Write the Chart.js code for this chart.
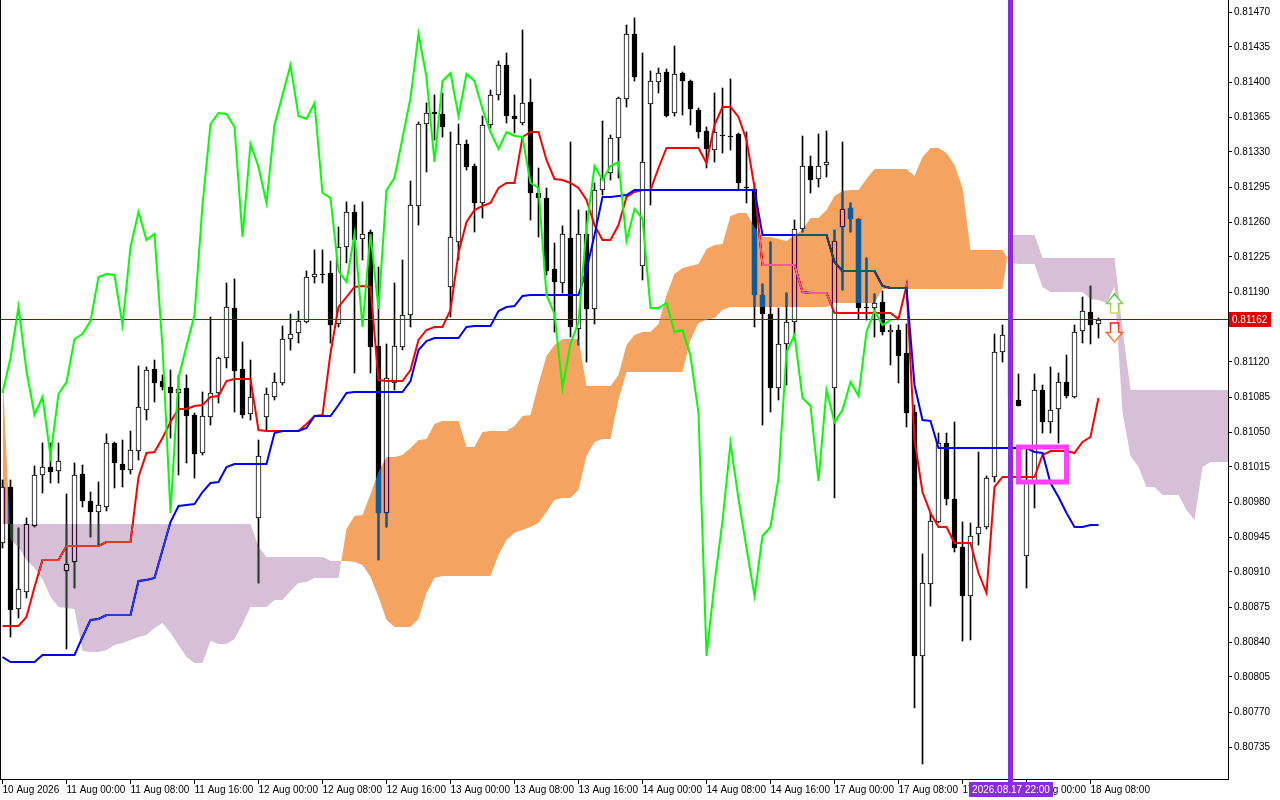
<!DOCTYPE html>
<html>
<head>
<meta charset="utf-8">
<script src="https://cdn.jsdelivr.net/npm/chart.js@4.4.1/dist/chart.umd.min.js"></script>
<style>
  html, body { margin: 0; padding: 0; background: #fff; overflow: hidden; }
  canvas { display: block; }
</style>
</head>
<body>
<canvas id="myChart" width="1280" height="800"></canvas>
<script>
// hourly bars, first bar = 10 Aug 16:00, one axis label every 8 bars
const tickLabels = ['10 Aug 2026', '11 Aug 00:00', '11 Aug 08:00', '11 Aug 16:00', '12 Aug 00:00', '12 Aug 08:00',
  '12 Aug 16:00', '13 Aug 00:00', '13 Aug 08:00', '13 Aug 16:00', '14 Aug 00:00', '14 Aug 08:00', '14 Aug 16:00',
  '17 Aug 00:00', '17 Aug 08:00', '17 Aug 16:00', '18 Aug 00:00', '18 Aug 08:00'];

const yTicks = [0.80735, 0.80770, 0.80805, 0.80840, 0.80875, 0.80910, 0.80945, 0.80980, 0.81015, 0.81050,
  0.81085, 0.81120, 0.81190, 0.81225, 0.81260, 0.81295, 0.81330, 0.81365, 0.81400, 0.81435, 0.81470];

const opens = [
  0.80939, 0.80995, 0.80873, 0.80890, 0.80956, 0.81007, 0.81015, 0.81011, 0.80911, 0.80920,
  0.81008, 0.80981, 0.80970, 0.80975, 0.81039, 0.81018, 0.81012, 0.81031, 0.81072, 0.81113,
  0.81101, 0.81095, 0.81089, 0.81094, 0.81067, 0.81029, 0.81065, 0.81089, 0.81124, 0.81174,
  0.81113, 0.81068, 0.80964, 0.81065, 0.81085, 0.81099, 0.81143, 0.81149, 0.81160, 0.81205,
  0.81208, 0.81209, 0.81158, 0.81235, 0.81270, 0.81243, 0.81250, 0.81136, 0.80969, 0.81099,
  0.81135, 0.81167, 0.81276, 0.81358, 0.81370, 0.81368, 0.81195, 0.81240, 0.81338, 0.81316,
  0.81279, 0.81357, 0.81387, 0.81417, 0.81366, 0.81359, 0.81380, 0.81289, 0.81284, 0.81213,
  0.81199, 0.81244, 0.81153, 0.81248, 0.81173, 0.81292, 0.81309, 0.81344, 0.81383, 0.81448,
  0.81216, 0.81378, 0.81400, 0.81410, 0.81369, 0.81409, 0.81401, 0.81372, 0.81351, 0.81332,
  0.81347, 0.81346, 0.81348, 0.81295, 0.81293, 0.81187, 0.81168, 0.81094, 0.81138, 0.81160,
  0.81253, 0.81316, 0.81303, 0.81317, 0.81094, 0.81255, 0.81274, 0.81263, 0.81175, 0.81174,
  0.81180, 0.81150, 0.81152, 0.81129, 0.81070, 0.80826, 0.80898, 0.80960, 0.81039, 0.80983,
  0.80935, 0.80886, 0.80948, 0.80955, 0.81005, 0.81130, 0.81144, 0.81082, 0.80926, 0.81001,
  0.81092, 0.81060, 0.81073, 0.81100, 0.81085, 0.81151, 0.81170, 0.81158];

const highs = [
  0.81002, 0.81002, 0.80954, 0.80964, 0.81016, 0.81039, 0.81039, 0.81039, 0.80988, 0.81019,
  0.81017, 0.80990, 0.81000, 0.81048, 0.81040, 0.81042, 0.81051, 0.81116, 0.81115, 0.81122,
  0.81107, 0.81112, 0.81107, 0.81107, 0.81069, 0.81090, 0.81165, 0.81125, 0.81199, 0.81203,
  0.81140, 0.81122, 0.81042, 0.81094, 0.81109, 0.81156, 0.81168, 0.81171, 0.81211, 0.81232,
  0.81232, 0.81221, 0.81255, 0.81280, 0.81277, 0.81280, 0.81252, 0.81215, 0.81138, 0.81199,
  0.81222, 0.81301, 0.81360, 0.81379, 0.81387, 0.81389, 0.81350, 0.81358, 0.81342, 0.81318,
  0.81366, 0.81392, 0.81421, 0.81429, 0.81387, 0.81452, 0.81403, 0.81314, 0.81294, 0.81239,
  0.81256, 0.81340, 0.81272, 0.81271, 0.81299, 0.81361, 0.81347, 0.81385, 0.81457, 0.81464,
  0.81429, 0.81411, 0.81414, 0.81413, 0.81436, 0.81410, 0.81402, 0.81374, 0.81355, 0.81389,
  0.81394, 0.81403, 0.81349, 0.81350, 0.81299, 0.81198, 0.81240, 0.81174, 0.81189, 0.81262,
  0.81346, 0.81326, 0.81348, 0.81351, 0.81252, 0.81340, 0.81279, 0.81263, 0.81224, 0.81188,
  0.81191, 0.81157, 0.81157, 0.81158, 0.81077, 0.80928, 0.80969, 0.81049, 0.81049, 0.81060,
  0.80960, 0.80959, 0.81030, 0.81006, 0.81148, 0.81157, 0.81162, 0.81108, 0.81035, 0.81108,
  0.81097, 0.81115, 0.81109, 0.81127, 0.81157, 0.81185, 0.81196, 0.81164];

const lows = [
  0.80934, 0.80845, 0.80864, 0.80884, 0.80955, 0.80989, 0.80999, 0.80999, 0.80833, 0.80894,
  0.80975, 0.80945, 0.80937, 0.80971, 0.80994, 0.80995, 0.81008, 0.81022, 0.81062, 0.81080,
  0.81092, 0.81044, 0.81007, 0.81019, 0.81004, 0.81027, 0.81057, 0.81079, 0.81114, 0.81070,
  0.81064, 0.81062, 0.80899, 0.81052, 0.81082, 0.81097, 0.81132, 0.81139, 0.81159, 0.81199,
  0.81199, 0.81139, 0.81155, 0.81219, 0.81109, 0.81222, 0.81109, 0.80922, 0.80955, 0.81092,
  0.81132, 0.81155, 0.81257, 0.81310, 0.81342, 0.81345, 0.81165, 0.81222, 0.81312, 0.81250,
  0.81264, 0.81354, 0.81382, 0.81359, 0.81349, 0.81357, 0.81262, 0.81245, 0.81207, 0.81150,
  0.81189, 0.81145, 0.81137, 0.81120, 0.81158, 0.81287, 0.81302, 0.81304, 0.81375, 0.81401,
  0.81202, 0.81277, 0.81389, 0.81365, 0.81366, 0.81367, 0.81357, 0.81344, 0.81314, 0.81320,
  0.81329, 0.81332, 0.81292, 0.81279, 0.81155, 0.81057, 0.81070, 0.81082, 0.81097, 0.81147,
  0.81250, 0.81289, 0.81295, 0.81305, 0.80984, 0.81192, 0.81250, 0.81163, 0.81162, 0.81145,
  0.81147, 0.81117, 0.81099, 0.81055, 0.80774, 0.80718, 0.80876, 0.80959, 0.80977, 0.80930,
  0.80841, 0.80842, 0.80937, 0.80953, 0.81000, 0.81120, 0.81062, 0.81076, 0.80894, 0.80974,
  0.81049, 0.81049, 0.81039, 0.81084, 0.81084, 0.81139, 0.81138, 0.81144];

const closes = [
  0.80995, 0.80872, 0.80893, 0.80958, 0.81007, 0.81015, 0.81010, 0.81021, 0.80918, 0.81007,
  0.80981, 0.80970, 0.80977, 0.81039, 0.81019, 0.81012, 0.81032, 0.81075, 0.81112, 0.81099,
  0.81095, 0.81089, 0.81093, 0.81066, 0.81028, 0.81066, 0.81089, 0.81124, 0.81175, 0.81111,
  0.81067, 0.81085, 0.81026, 0.81088, 0.81100, 0.81143, 0.81148, 0.81161, 0.81205, 0.81208,
  0.81207, 0.81157, 0.81235, 0.81270, 0.81242, 0.81248, 0.81135, 0.80969, 0.81104, 0.81136,
  0.81167, 0.81277, 0.81358, 0.81369, 0.81368, 0.81355, 0.81245, 0.81338, 0.81315, 0.81279,
  0.81357, 0.81387, 0.81417, 0.81366, 0.81363, 0.81379, 0.81289, 0.81284, 0.81211, 0.81200,
  0.81248, 0.81155, 0.81248, 0.81173, 0.81292, 0.81304, 0.81344, 0.81384, 0.81448, 0.81405,
  0.81320, 0.81401, 0.81409, 0.81366, 0.81408, 0.81401, 0.81373, 0.81350, 0.81333, 0.81350,
  0.81346, 0.81345, 0.81299, 0.81294, 0.81187, 0.81168, 0.81094, 0.81138, 0.81160, 0.81253,
  0.81316, 0.81302, 0.81316, 0.81320, 0.81241, 0.81273, 0.81263, 0.81174, 0.81174, 0.81179,
  0.81150, 0.81152, 0.81126, 0.81069, 0.80826, 0.80899, 0.80961, 0.81039, 0.80983, 0.80934,
  0.80886, 0.80946, 0.80955, 0.81004, 0.81130, 0.81147, 0.81084, 0.81076, 0.81001, 0.81092,
  0.81060, 0.81072, 0.81100, 0.81086, 0.81150, 0.81171, 0.81157, 0.81162];

// Ichimoku 9/26/52
const tenkan = [
  0.80856, 0.80856, 0.80856, 0.80865, 0.80895, 0.80922, 0.80922, 0.80922, 0.80936, 0.80936,
  0.80936, 0.80936, 0.80936, 0.80940, 0.80940, 0.80940, 0.80940, 0.81005, 0.81029, 0.81030,
  0.81044, 0.81060, 0.81073, 0.81073, 0.81076, 0.81077, 0.81085, 0.81086, 0.81101, 0.81103,
  0.81103, 0.81103, 0.81052, 0.81051, 0.81051, 0.81051, 0.81051, 0.81051, 0.81058, 0.81066,
  0.81067, 0.81129, 0.81175, 0.81185, 0.81195, 0.81196, 0.81195, 0.81102, 0.81101, 0.81101,
  0.81101, 0.81112, 0.81142, 0.81152, 0.81155, 0.81155, 0.81172, 0.81229, 0.81260, 0.81272,
  0.81276, 0.81279, 0.81294, 0.81299, 0.81299, 0.81345, 0.81350, 0.81350, 0.81322, 0.81303,
  0.81302, 0.81299, 0.81294, 0.81282, 0.81257, 0.81242, 0.81242, 0.81257, 0.81285, 0.81290,
  0.81292, 0.81292, 0.81314, 0.81334, 0.81334, 0.81334, 0.81334, 0.81334, 0.81319, 0.81357,
  0.81375, 0.81375, 0.81365, 0.81342, 0.81295, 0.81217, 0.81217, 0.81217, 0.81217, 0.81217,
  0.81190, 0.81189, 0.81189, 0.81189, 0.81169, 0.81169, 0.81169, 0.81169, 0.81169, 0.81169,
  0.81169, 0.81169, 0.81163, 0.81196, 0.81042, 0.80990, 0.80969, 0.80955, 0.80955, 0.80939,
  0.80939, 0.80939, 0.80909, 0.80889, 0.80995, 0.81005, 0.81005, 0.81005, 0.81005, 0.81005,
  0.81027, 0.81031, 0.81031, 0.81031, 0.81029, 0.81040, 0.81045, 0.81084];

const kijun = [
  0.80825, 0.80820, 0.80820, 0.80820, 0.80820, 0.80827, 0.80827, 0.80827, 0.80827, 0.80827,
  0.80845, 0.80862, 0.80863, 0.80867, 0.80867, 0.80867, 0.80867, 0.80901, 0.80902, 0.80904,
  0.80932, 0.80960, 0.80976, 0.80977, 0.80978, 0.80990, 0.80999, 0.81000, 0.81015, 0.81018,
  0.81018, 0.81018, 0.81018, 0.81018, 0.81049, 0.81051, 0.81051, 0.81051, 0.81054, 0.81066,
  0.81066, 0.81066, 0.81077, 0.81089, 0.81090, 0.81090, 0.81090, 0.81090, 0.81090, 0.81090,
  0.81090, 0.81101, 0.81132, 0.81141, 0.81144, 0.81144, 0.81144, 0.81144, 0.81155, 0.81156,
  0.81156, 0.81156, 0.81171, 0.81175, 0.81176, 0.81186, 0.81187, 0.81187, 0.81187, 0.81187,
  0.81187, 0.81187, 0.81187, 0.81212, 0.81247, 0.81285, 0.81285, 0.81286, 0.81287, 0.81292,
  0.81292, 0.81292, 0.81292, 0.81292, 0.81292, 0.81292, 0.81292, 0.81292, 0.81292, 0.81292,
  0.81292, 0.81292, 0.81292, 0.81292, 0.81292, 0.81247, 0.81247, 0.81247, 0.81247, 0.81247,
  0.81247, 0.81247, 0.81247, 0.81247, 0.81220, 0.81211, 0.81211, 0.81211, 0.81211, 0.81211,
  0.81196, 0.81194, 0.81194, 0.81194, 0.81097, 0.81062, 0.81061, 0.81034, 0.81034, 0.81034,
  0.81034, 0.81034, 0.81034, 0.81034, 0.81034, 0.81034, 0.81034, 0.81034, 0.81034, 0.81030,
  0.81029, 0.80999, 0.80985, 0.80969, 0.80955, 0.80955, 0.80957, 0.80957];

// cloud edges, already shifted 26 bars ahead (runs past the last candle)
const spanA = [
  0.81112, 0.80942, 0.80935, 0.80922, 0.80914, 0.80903, 0.80885, 0.80875, 0.80874, 0.80873,
  0.80831, 0.80830, 0.80830, 0.80832, 0.80837, 0.80839, 0.80842, 0.80845, 0.80847, 0.80854,
  0.80859, 0.80849, 0.80837, 0.80825, 0.80819, 0.80819, 0.80841, 0.80838, 0.80838, 0.80843,
  0.80858, 0.80875, 0.80875, 0.80875, 0.80882, 0.80882, 0.80891, 0.80899, 0.80900, 0.80904,
  0.80904, 0.80904, 0.80904, 0.80953, 0.80966, 0.80967, 0.80988, 0.81010, 0.81025, 0.81025,
  0.81027, 0.81034, 0.81042, 0.81043, 0.81058, 0.81061, 0.81061, 0.81061, 0.81035, 0.81035,
  0.81050, 0.81051, 0.81051, 0.81051, 0.81056, 0.81066, 0.81067, 0.81098, 0.81126, 0.81137,
  0.81143, 0.81143, 0.81143, 0.81096, 0.81096, 0.81096, 0.81096, 0.81107, 0.81137, 0.81147,
  0.81150, 0.81150, 0.81158, 0.81187, 0.81208, 0.81214, 0.81216, 0.81218, 0.81233, 0.81237,
  0.81238, 0.81266, 0.81269, 0.81269, 0.81255, 0.81245, 0.81245, 0.81243, 0.81241, 0.81247,
  0.81252, 0.81264, 0.81264, 0.81272, 0.81286, 0.81291, 0.81292, 0.81292, 0.81303, 0.81313,
  0.81313, 0.81313, 0.81313, 0.81313, 0.81306, 0.81325, 0.81334, 0.81334, 0.81329, 0.81317,
  0.81294, 0.81232, 0.81232, 0.81232, 0.81232, 0.81232, 0.81219, 0.81218, 0.81218, 0.81218,
  0.81195, 0.81190, 0.81190, 0.81190, 0.81190, 0.81190, 0.81183, 0.81182, 0.81179, 0.81195,
  0.81070, 0.81026, 0.81015, 0.80995, 0.80995, 0.80987, 0.80987, 0.80987, 0.80972, 0.80962,
  0.81015, 0.81020, 0.81020, 0.81020, 0.81020];

const spanB = [
  0.80958, 0.80958, 0.80958, 0.80958, 0.80958, 0.80958, 0.80958, 0.80958, 0.80958, 0.80958,
  0.80958, 0.80958, 0.80958, 0.80958, 0.80958, 0.80958, 0.80958, 0.80958, 0.80958, 0.80958,
  0.80958, 0.80958, 0.80958, 0.80958, 0.80958, 0.80958, 0.80958, 0.80958, 0.80958, 0.80958,
  0.80958, 0.80958, 0.80935, 0.80925, 0.80925, 0.80925, 0.80925, 0.80925, 0.80925, 0.80925,
  0.80925, 0.80921, 0.80921, 0.80921, 0.80920, 0.80917, 0.80905, 0.80885, 0.80862, 0.80855,
  0.80855, 0.80855, 0.80863, 0.80889, 0.80904, 0.80906, 0.80906, 0.80906, 0.80906, 0.80906,
  0.80906, 0.80906, 0.80927, 0.80942, 0.80949, 0.80952, 0.80955, 0.80959, 0.80970, 0.80982,
  0.80984, 0.80984, 0.80992, 0.81026, 0.81040, 0.81043, 0.81043, 0.81082, 0.81110, 0.81110,
  0.81110, 0.81110, 0.81110, 0.81110, 0.81110, 0.81110, 0.81142, 0.81159, 0.81162, 0.81164,
  0.81172, 0.81175, 0.81175, 0.81175, 0.81175, 0.81175, 0.81175, 0.81175, 0.81175, 0.81175,
  0.81175, 0.81175, 0.81175, 0.81175, 0.81179, 0.81179, 0.81179, 0.81179, 0.81179, 0.81179,
  0.81193, 0.81193, 0.81193, 0.81193, 0.81193, 0.81193, 0.81193, 0.81193, 0.81193, 0.81193,
  0.81193, 0.81193, 0.81193, 0.81193, 0.81193, 0.81193, 0.81247, 0.81247, 0.81247, 0.81247,
  0.81224, 0.81224, 0.81224, 0.81224, 0.81224, 0.81224, 0.81224, 0.81224, 0.81224, 0.81224,
  0.81152, 0.81092, 0.81092, 0.81092, 0.81092, 0.81092, 0.81092, 0.81092, 0.81092, 0.81092,
  0.81092, 0.81092, 0.81092, 0.81092, 0.81092];

const chikouShift = 26;
const lastPrice = 0.81162;

// objects drawn on the chart
const markerBar = 126;               // 17 Aug 22:00
const markerText = '2026.08.17 22:00';
const boxBars = [127, 133];
const boxPrices = [0.81000, 0.81035];
const arrowBar = 139;
const upArrow = [0.81188, 0.81169];  // tip, base
const downArrow = [0.81140, 0.81159]; // tip, base

const xy = arr => arr.map((v, i) => ({ x: i, y: v }));

Chart.defaults.font.family = '"Liberation Sans", Arial, sans-serif';
Chart.defaults.font.size = 10;
Chart.defaults.color = '#000';

function arrow(c, x, yTip, yBase, c1, c2) {
  const dir = yBase > yTip ? 1 : -1;
  const neck = yTip + dir * Math.abs(yBase - yTip) * 0.5;
  c.beginPath();
  c.moveTo(x, yTip);
  c.lineTo(x + 8, neck);
  c.lineTo(x + 4, neck);
  c.lineTo(x + 4, yBase);
  c.lineTo(x - 4, yBase);
  c.lineTo(x - 4, neck);
  c.lineTo(x - 8, neck);
  c.closePath();
  const g = c.createLinearGradient(0, yTip, 0, yBase);
  g.addColorStop(0, c1);
  g.addColorStop(1, c2);
  c.fillStyle = '#fff';
  c.fill();
  c.lineWidth = 1.5;
  c.strokeStyle = g;
  c.stroke();
}

const mt5Look = {
  id: 'mt5Look',
  beforeDraw(chart) {
    const c = chart.ctx;
    c.save();
    c.fillStyle = '#fff';
    c.fillRect(0, 0, chart.width, chart.height);
    c.restore();
  },
  afterDatasetDraw(chart, args) {
    const c = chart.ctx;
    if (args.index === 4) {
      // bid line, then the cloud goes on top with an inverting blend (terminal style)
      const a = chart.chartArea;
      const y = Math.round(chart.scales.y.getPixelForValue(lastPrice)) - 0.5;
      c.save();
      c.strokeStyle = '#a00000';
      c.lineWidth = 1;
      c.beginPath();
      c.moveTo(a.left, y);
      c.lineTo(a.right, y);
      c.stroke();
      c.restore();
      c.globalCompositeOperation = 'difference';
    } else if (args.index === 5) {
      c.globalCompositeOperation = 'source-over';
    }
  },
  afterDraw(chart) {
    const c = chart.ctx;
    const a = chart.chartArea;
    const xs = chart.scales.x;
    const ys = chart.scales.y;
    c.save();
    c.fillStyle = '#000';
    c.fillRect(a.left, a.top, 1, a.bottom - a.top);

    // vertical marker
    const mx = Math.round(xs.getPixelForValue(markerBar));
    c.fillStyle = '#8a2be2';
    c.fillRect(mx - 3, a.top, 5, a.bottom - a.top + 3);
    c.font = '10px "Liberation Sans", Arial, sans-serif';
    const tw = c.measureText(markerText).width + 6;
    c.fillRect(Math.round(mx - tw / 2), a.bottom + 3, Math.round(tw), 15);
    c.fillStyle = '#fff';
    c.textBaseline = 'middle';
    c.textAlign = 'center';
    c.fillText(markerText, mx, a.bottom + 11);

    // rectangle object
    const bx0 = xs.getPixelForValue(boxBars[0]);
    const bx1 = xs.getPixelForValue(boxBars[1]);
    const by0 = ys.getPixelForValue(boxPrices[1]);
    const by1 = ys.getPixelForValue(boxPrices[0]);
    c.strokeStyle = '#ff40ff';
    c.lineWidth = 5;
    c.strokeRect(bx0, by0, bx1 - bx0, by1 - by0);

    // buy / sell arrows
    const ax = xs.getPixelForValue(arrowBar);
    arrow(c, ax, ys.getPixelForValue(upArrow[0]), ys.getPixelForValue(upArrow[1]), '#3ccc3c', '#c8e060');
    arrow(c, ax, ys.getPixelForValue(downArrow[0]), ys.getPixelForValue(downArrow[1]), '#ff9a30', '#ff2020');

    // price label on the axis
    const py = Math.round(ys.getPixelForValue(lastPrice));
    c.fillStyle = '#e00000';
    c.fillRect(a.right + 1, py - 8, 42, 15);
    c.fillStyle = '#fff';
    c.textAlign = 'left';
    c.fillText(lastPrice.toFixed(5), a.right + 4, py);
    c.restore();
  }
};

const bodyColors = closes.map((c, i) => (c >= opens[i] ? '#ffffff' : '#000000'));

const ctx = document.getElementById('myChart').getContext('2d');
const myChart = new Chart(ctx, {
  type: 'bar',
  data: {
    datasets: [
      {
        label: 'wicks',
        data: lows.map((l, i) => ({ x: i, y: [l, highs[i]] })),
        backgroundColor: '#000',
        barThickness: 1,
        grouped: false,
        order: 10
      },
      {
        label: 'bodies',
        data: opens.map((o, i) => ({ x: i, y: [o, closes[i]] })),
        backgroundColor: bodyColors,
        borderColor: '#000',
        borderWidth: 1,
        borderSkipped: false,
        barThickness: 5,
        minBarLength: 1,
        grouped: false,
        order: 9
      },
      {
        type: 'line', label: 'Tenkan-sen', data: xy(tenkan),
        borderColor: '#ff0000', borderWidth: 2, pointRadius: 0, tension: 0, order: 8
      },
      {
        type: 'line', label: 'Kijun-sen', data: xy(kijun),
        borderColor: '#0000ff', borderWidth: 2, pointRadius: 0, tension: 0, order: 7
      },
      {
        type: 'line', label: 'Senkou Span B', data: xy(spanB),
        borderColor: 'rgba(0,0,0,0)', borderWidth: 0, pointRadius: 0, tension: 0, order: 6
      },
      {
        type: 'line', label: 'Senkou Span A', data: xy(spanA),
        borderColor: 'rgba(0,0,0,0)', borderWidth: 0, pointRadius: 0, tension: 0, order: 5,
        // inverted colours: drawn with 'difference' they come out sandybrown / thistle on white
        fill: { target: 4, above: 'rgb(11,91,159)', below: 'rgb(39,64,39)' }
      },
      {
        type: 'line', label: 'Chikou Span', data: xy(closes.slice(chikouShift)),
        borderColor: '#00ff00', borderWidth: 2, pointRadius: 0, tension: 0, order: 4
      }
    ]
  },
  options: {
    responsive: false,
    animation: false,
    layout: { padding: 0 },
    plugins: { legend: { display: false }, tooltip: { enabled: false } },
    scales: {
      x: {
        type: 'linear',
        position: 'bottom',
        min: -0.3125,
        max: 153.1875,
        offset: false,
        grid: { offset: false, drawOnChartArea: false, drawTicks: true, tickLength: 5, color: '#000' },
        border: { display: true, color: '#000' },
        ticks: {
          autoSkip: false, maxRotation: 0, align: 'start', padding: 0,
          callback: v => tickLabels[Math.round(v / 8)]
        },
        afterBuildTicks: s => { s.ticks = tickLabels.map((t, k) => ({ value: k * 8 })); },
        afterFit: s => { s.height = 21; s.paddingLeft = 0; s.paddingRight = 0; }
      },
      y: {
        type: 'linear',
        position: 'right',
        min: 0.80703,
        max: 0.81482,
        grid: { drawOnChartArea: false, drawTicks: true, tickLength: 4, color: '#000' },
        border: { display: true, color: '#000' },
        ticks: { padding: 2, callback: v => v.toFixed(5) },
        afterBuildTicks: s => { s.ticks = yTicks.map(v => ({ value: v })); },
        afterFit: s => { s.width = 52; s.paddingTop = 0; s.paddingBottom = 0; }
      }
    }
  },
  plugins: [mt5Look]
});
</script>
</body>
</html>
